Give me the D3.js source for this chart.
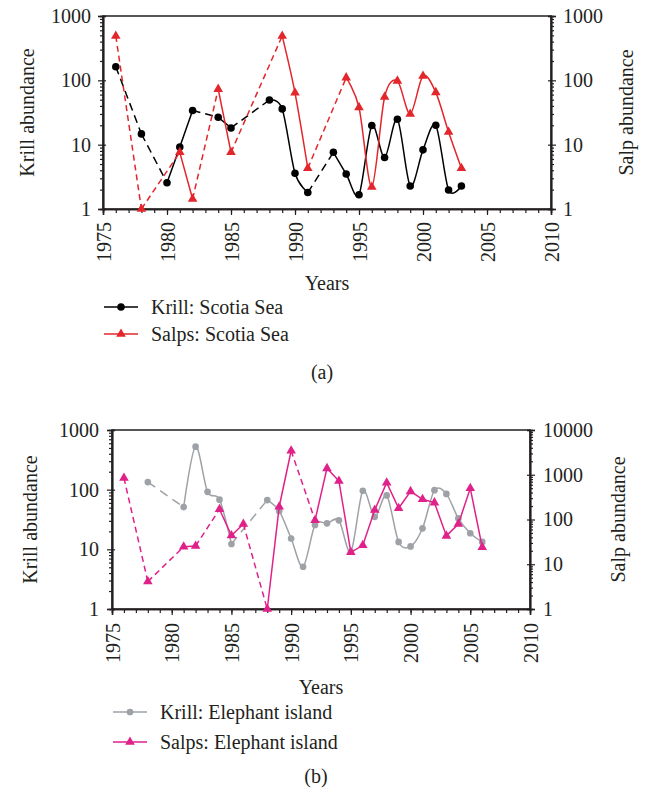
<!DOCTYPE html>
<html>
<head>
<meta charset="utf-8">
<script src="https://cdn.jsdelivr.net/npm/d3@7"></script>
<style>
  body { margin: 0; background: #fff; }
  svg text { font-family: "Liberation Serif", "Times New Roman", serif; fill: #231f20; }
</style>
</head>
<body>
<div id="chart"></div>
<script>
// ---- data ----
const yearTicks = [1975, 1980, 1985, 1990, 1995, 2000, 2005, 2010];
const ticksTo1000 = [1, 10, 100, 1000];
const ticksTo10000 = [1, 10, 100, 1000, 10000];

// (a) Scotia Sea
const krillScotiaYears = [1976, 1978, 1980, 1981, 1982, 1984, 1985, 1988, 1989, 1990, 1991,
    1993, 1994, 1995, 1996, 1997, 1998, 1999, 2000, 2001, 2002, 2003];
const krillScotia = [163, 14.7, 2.56, 9.2, 34, 26.7, 18.2, 49.5, 36, 3.6, 1.8,
    7.6, 3.5, 1.67, 19.8, 6.3, 24.8, 2.28, 8.3, 20, 1.97, 2.28];
const salpsScotiaYears = [1976, 1978, 1981, 1982, 1984, 1985, 1989, 1990, 1991,
    1994, 1995, 1996, 1997, 1998, 1999, 2000, 2001, 2002, 2003];
const salpsScotia = [490, 1.0, 7.6, 1.43, 73, 7.6, 490, 64, 4.3,
    110, 38, 2.2, 55, 98, 30, 117, 65, 15.7, 4.3];

// (b) Elephant Island
const krillElephantYears = [1978, 1981, 1982, 1983, 1984, 1985, 1988, 1989, 1990, 1991, 1992,
    1993, 1994, 1995, 1996, 1997, 1998, 1999, 2000, 2001, 2002, 2003, 2004, 2005, 2006];
const krillElephant = [134, 51, 525, 92, 68, 12.3, 67, 44, 15.2, 5.1, 25.6,
    27.3, 30.6, 9.1, 96, 35, 80, 13.3, 11.2, 22.5, 98, 85, 33, 18.6, 13.3];
const salpsElephantYears = [1976, 1978, 1981, 1982, 1984, 1985, 1986, 1988, 1989, 1990,
    1992, 1993, 1994, 1995, 1996, 1997, 1998, 1999, 2000, 2001, 2002, 2003, 2004, 2005, 2006];
const salpsElephant = [845, 4.1, 24.7, 25.6, 169, 44, 79, 1.0, 193, 3440,
    96, 1390, 725, 18.5, 26.5, 163, 665, 178, 425, 283, 238, 43, 79, 498, 24];

const FS = "20px";

const svg = d3.select("#chart").append("svg")
    .attr("width", 645)
    .attr("height", 792);

function minorValues(maxV) {
    let out = [];
    for (let p = 1; p < maxV; p *= 10) {
        for (let k = 2; k <= 9; k++) out.push(p * k);
    }
    return out;
}

function drawPanel(p) {
    const x = d3.scaleLinear().domain([1975, 2010]).range([p.left, p.right]);
    const yL = d3.scaleLog().domain([1, 1000]).range([p.bottom, p.top]);
    const yR = d3.scaleLog().domain([1, p.rightMax]).range([p.bottom, p.top]);
    const g = svg.append("g");

    // frame
    g.append("rect")
        .attr("x", p.left).attr("y", p.top)
        .attr("width", p.right - p.left).attr("height", p.bottom - p.top)
        .attr("fill", "none").attr("stroke", "#231f20").attr("stroke-width", 1.5);

    // x axis: yearly minor ticks, labelled every 5 years
    g.append("g")
        .attr("transform", `translate(0,${p.bottom})`)
        .call(d3.axisBottom(x).tickValues(d3.range(1975, 2011)).tickSize(4).tickFormat(""));
    const xa = g.append("g")
        .attr("transform", `translate(0,${p.bottom})`)
        .call(d3.axisBottom(x).tickValues(yearTicks).tickSize(6).tickFormat(d3.format("d")));
    xa.selectAll("text")
        .attr("transform", "rotate(-90)")
        .attr("text-anchor", "end")
        .attr("x", -p.xLabelGap).attr("y", 0).attr("dy", "0.35em")
        .style("font-size", FS);

    // left axis
    g.append("g").attr("transform", `translate(${p.left},0)`)
        .call(d3.axisLeft(yL).tickValues(minorValues(1000)).tickSize(3).tickFormat(""));
    g.append("g").attr("transform", `translate(${p.left},0)`)
        .call(d3.axisLeft(yL).tickValues(ticksTo1000).tickSize(-3).tickFormat(""));
    g.append("g").attr("transform", `translate(${p.left},0)`)
        .call(d3.axisLeft(yL).tickValues(ticksTo1000).tickSize(5).tickPadding(p.yLabelGap - 5)
            .tickFormat(d3.format("d")))
        .selectAll("text").style("font-size", FS);

    // right axis
    const rightTicks = p.rightMax === 1000 ? ticksTo1000 : ticksTo10000;
    g.append("g").attr("transform", `translate(${p.right},0)`)
        .call(d3.axisRight(yR).tickValues(minorValues(p.rightMax)).tickSize(3).tickFormat(""));
    g.append("g").attr("transform", `translate(${p.right},0)`)
        .call(d3.axisRight(yR).tickValues(rightTicks).tickSize(-3).tickFormat(""));
    g.append("g").attr("transform", `translate(${p.right},0)`)
        .call(d3.axisRight(yR).tickValues(rightTicks).tickSize(5).tickPadding(p.yLabelGap - 5)
            .tickFormat(d3.format("d")))
        .selectAll("text").style("font-size", FS);

    g.selectAll(".domain").attr("stroke", "#231f20").attr("stroke-width", 1.5);
    g.selectAll(".tick line").attr("stroke", "#231f20").attr("stroke-width", 1.2);

    // axis titles
    g.append("text")
        .attr("transform", `translate(${p.leftTitleX},${(p.top + p.bottom) / 2}) rotate(-90)`)
        .attr("text-anchor", "middle").attr("dy", "0.35em")
        .style("font-size", FS).text("Krill abundance");
    g.append("text")
        .attr("transform", `translate(${p.rightTitleX},${(p.top + p.bottom) / 2}) rotate(-90)`)
        .attr("text-anchor", "middle").attr("dy", "0.35em")
        .style("font-size", FS).text("Salp abundance");
    g.append("text")
        .attr("x", (p.left + p.right) / 2).attr("y", p.yearsY)
        .attr("text-anchor", "middle").attr("dy", "0.35em")
        .style("font-size", FS).text("Years");

    // series
    p.series.forEach(s => {
        const y = s.axis === "left" ? yL : yR;
        const pts = s.years.map((yr, i) => ({ yr: yr, v: s.values[i] }));
        // split into runs of consecutive years; gaps get dashed connectors
        let runs = [[pts[0]]];
        for (let i = 1; i < pts.length; i++) {
            if (pts[i].yr - pts[i - 1].yr === 1) runs[runs.length - 1].push(pts[i]);
            else runs.push([pts[i]]);
        }
        const solid = d3.line().x(d => x(d.yr)).y(d => y(d.v))
            .curve(s.smooth ? d3.curveCardinal.tension(0.1) : d3.curveLinear);
        const straight = d3.line().x(d => x(d.yr)).y(d => y(d.v));
        runs.forEach((r, i) => {
            if (r.length > 1) {
                g.append("path").datum(r).attr("d", solid)
                    .attr("fill", "none").attr("stroke", s.color).attr("stroke-width", 1.5);
            }
            if (i > 0) {
                const prev = runs[i - 1];
                g.append("path").datum([prev[prev.length - 1], r[0]]).attr("d", straight)
                    .attr("fill", "none").attr("stroke", s.color).attr("stroke-width", 1.5)
                    .attr("stroke-dasharray", s.dash);
            }
        });
        const sym = d3.symbol().type(s.marker === "circle" ? d3.symbolCircle : d3.symbolTriangle)
            .size(s.markerSize);
        g.selectAll(null).data(pts).join("path")
            .attr("transform", d => `translate(${x(d.yr)},${y(d.v)})`)
            .attr("d", sym).attr("fill", s.color);
    });

    // legend
    p.series.forEach((s, i) => {
        const ly = p.legendY + i * p.legendStep;
        g.append("line")
            .attr("x1", p.legendX).attr("x2", p.legendX + 34)
            .attr("y1", ly).attr("y2", ly)
            .attr("stroke", s.color).attr("stroke-width", 1.5);
        g.append("path")
            .attr("transform", `translate(${p.legendX + 17},${ly})`)
            .attr("d", d3.symbol().type(s.marker === "circle" ? d3.symbolCircle : d3.symbolTriangle)
                .size(s.markerSize))
            .attr("fill", s.color);
        g.append("text")
            .attr("x", p.legendX + 47).attr("y", ly).attr("dy", "0.35em")
            .style("font-size", FS).text(s.name);
    });

    g.append("text")
        .attr("x", (p.left + p.right) / 2 - 5).attr("y", p.captionY)
        .attr("text-anchor", "middle").attr("dy", "0.35em")
        .style("font-size", FS).text(p.caption);
}

drawPanel({
    left: 103, right: 551, top: 16, bottom: 209, rightMax: 1000,
    xLabelGap: 13, yLabelGap: 12,
    leftTitleX: 27, rightTitleX: 626, yearsY: 283,
    legendX: 104, legendY: 307, legendStep: 27,
    captionY: 372, caption: "(a)",
    series: [
        { name: "Krill: Scotia Sea", years: krillScotiaYears, values: krillScotia, axis: "left",
          color: "#000000", marker: "circle", markerSize: 45, dash: "8,5", smooth: true },
        { name: "Salps: Scotia Sea", years: salpsScotiaYears, values: salpsScotia, axis: "right",
          color: "#e3262b", marker: "triangle", markerSize: 40, dash: "6,4", smooth: true }
    ]
});

drawPanel({
    left: 112, right: 530, top: 430, bottom: 609, rightMax: 10000,
    xLabelGap: 14, yLabelGap: 13,
    leftTitleX: 30, rightTitleX: 618, yearsY: 687,
    legendX: 113, legendY: 712, legendStep: 30,
    captionY: 776, caption: "(b)",
    series: [
        { name: "Krill: Elephant island", years: krillElephantYears, values: krillElephant, axis: "left",
          color: "#9ea2a7", marker: "circle", markerSize: 35, dash: "9,6", smooth: true },
        { name: "Salps: Elephant island", years: salpsElephantYears, values: salpsElephant, axis: "right",
          color: "#e0218a", marker: "triangle", markerSize: 40, dash: "6,4", smooth: false }
    ]
});
</script>
</body>
</html>
